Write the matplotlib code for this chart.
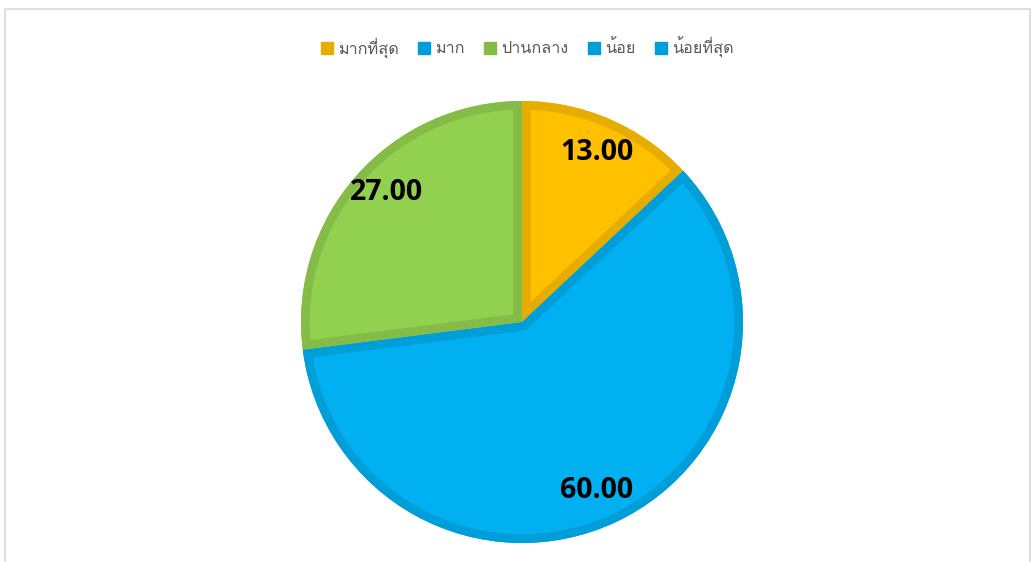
import matplotlib
matplotlib.use("Agg")
import matplotlib.pyplot as plt
from matplotlib import font_manager as fm
from matplotlib.ft2font import FT2Font
from matplotlib.patches import Rectangle, Patch, Wedge

categories = ["มากที่สุด", "มาก", "ปานกลาง", "น้อย", "น้อยที่สุด"]
values = [13.0, 60.0, 0.0, 0.0, 27.0]
# order of slices as drawn clockwise from top
slice_values = [13.0, 60.0, 27.0]
slice_labels = ["13.00", "60.00", "27.00"]
face_colors = ["#FFC000", "#00B0F0", "#92D050"]
edge_colors = ["#E6AC00", "#009ED9", "#84BC47"]
legend_colors = ["#E6AC00", "#009ED9", "#84BC47", "#009ED9", "#009ED9"]

thai_font = None
for f in fm.fontManager.ttflist:
    try:
        if 0x0E21 in FT2Font(f.fname).get_charmap():
            thai_font = f.name
            break
    except Exception:
        pass
legend_family = [thai_font, "DejaVu Sans"] if thai_font else ["DejaVu Sans"]

fig = plt.figure(figsize=(10.33, 5.62), dpi=100)
ax = fig.add_axes([0, 0, 1, 1])

W, H = 1033, 562
cx, cy, r = 522, H - 322, 221
wedges, _ = ax.pie(slice_values, colors=face_colors, startangle=90, counterclock=False,
                   center=(cx, cy), radius=r, frame=True,
                   wedgeprops=dict(linewidth=0))
for w, ec in zip(wedges, edge_colors):
    border = Wedge(w.center, w.r, w.theta1, w.theta2, facecolor="none",
                   edgecolor=ec, linewidth=12.5)
    ax.add_patch(border)
    border.set_clip_path(w)

label_pos = [(597, 152), (597, 491), (386, 193)]
for (x, y), t in zip(label_pos, slice_labels):
    ax.text(x, H - y, t, ha="center", va="center", fontsize=20.5, fontweight="bold",
            family="Open Sans", color="black")

ax.add_patch(Rectangle((5, -20), 1025, H - 9 + 20, facecolor="none", edgecolor="#D9D9D9", lw=1.2))

ax.set_xlim(0, W)
ax.set_ylim(0, H)
ax.set_aspect("auto")
ax.axis("off")

handles = [Patch(facecolor=c, edgecolor=c) for c in legend_colors]
leg = fig.legend(handles, categories, loc="center", bbox_to_anchor=(527 / W, 1 - 47 / H), ncol=5,
                 frameon=False, handlelength=0.75, handleheight=0.75, handletextpad=0.3,
                 columnspacing=1.2, prop=dict(family=legend_family, size=11.7))
for t in leg.get_texts():
    t.set_color("#595959")

fig.savefig("out.png", dpi=100)
